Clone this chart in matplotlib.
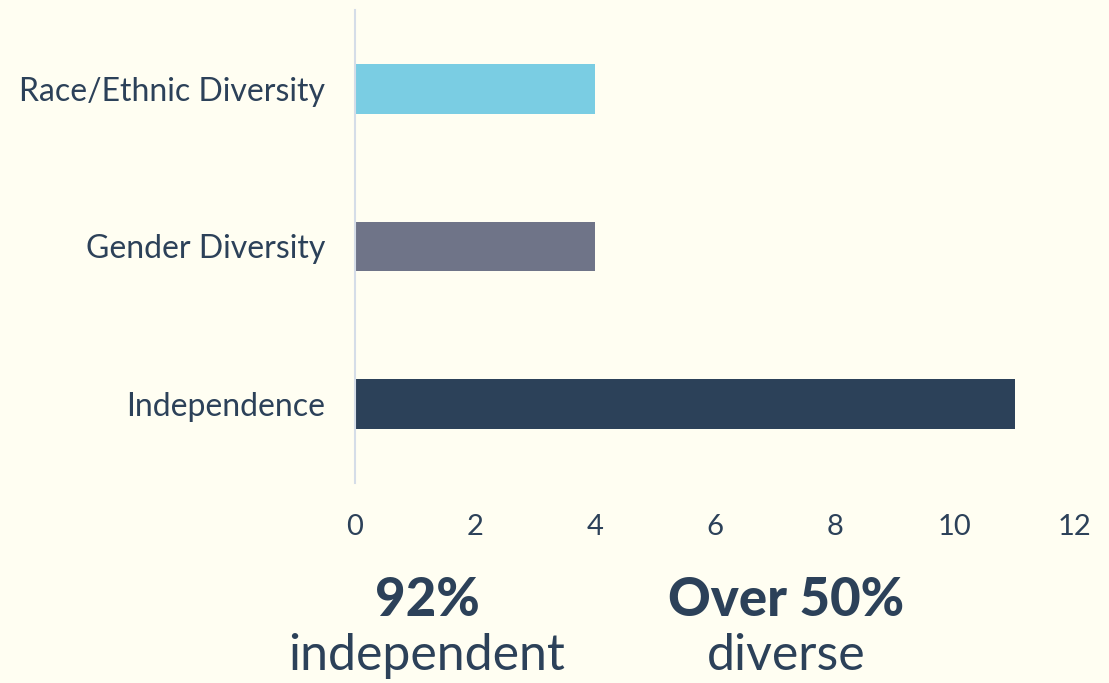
import matplotlib
matplotlib.use("Agg")
import matplotlib.pyplot as plt

categories = ["Race/Ethnic Diversity", "Gender Diversity", "Independence"]
values = [4, 4, 11]
bar_colors = ["#7acde3", "#6f7488", "#2c4159"]
xticks = [0, 2, 4, 6, 8, 10, 12]
notes = [("92%", "independent"), ("Over 50%", "diverse")]
note_x = [427, 786]

BG = "#fffef2"
TXT = "#2c4159"

plt.rcParams['font.family'] = ['Lato', 'DejaVu Sans']

fig = plt.figure(figsize=(11.09, 6.83), dpi=100, facecolor=BG)
W, H = 1109, 683
ax = fig.add_axes([355 / W, 1 - 483 / H, 720 / W, 473 / H])
ax.set_facecolor(BG)

ypos = list(range(len(categories)))
ax.barh(ypos, values, height=0.315, color=bar_colors)
ax.set_ylim(len(categories) - 0.5, -0.5)
ax.set_xlim(0, 12)
ax.set_yticks(ypos)
ax.set_yticklabels(categories)
ax.set_xticks(xticks)
ax.set_xticklabels([str(t) for t in xticks])
ax.tick_params(axis='y', length=0, pad=21.5, labelsize=23, labelcolor=TXT)
ax.tick_params(axis='x', length=0, pad=22, labelsize=21, labelcolor=TXT)
for s in ['top', 'right', 'bottom']:
    ax.spines[s].set_visible(False)
ax.spines['left'].set_color('#d5dde8')
ax.spines['left'].set_linewidth(1.5)

for (big, small), x in zip(notes, note_x):
    fig.text(x / W, 1 - 600 / H, big, ha='center', va='center',
             fontsize=38, fontweight='black', color=TXT)
    fig.text(x / W, 1 - 656 / H, small, ha='center', va='center',
             fontsize=36, color=TXT)

fig.savefig("out.png", dpi=100, facecolor=BG)
